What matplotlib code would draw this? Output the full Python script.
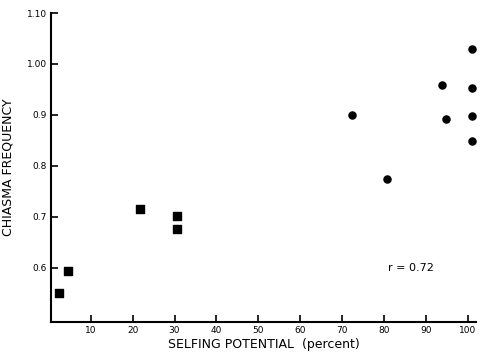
import matplotlib
matplotlib.use("Agg")
import matplotlib.pyplot as plt

plt.rcParams["font.family"] = ["DejaVu Sans"]

# low selfing (squares)
sq_x = [2.4, 4.5, 21.7, 30.7, 30.7]
sq_y = [0.551, 0.594, 0.716, 0.702, 0.676]
# high selfing (circles)
ci_x = [72.4, 80.7, 93.8, 94.8, 101, 101, 101, 101]
ci_y = [0.900, 0.775, 0.959, 0.892, 1.029, 0.953, 0.898, 0.849]

xticks = [10, 20, 30, 40, 50, 60, 70, 80, 90, 100]
yticks = [0.6, 0.7, 0.8, 0.9, 1.0, 1.1]
ytick_labels = ["0.6", "0.7", "0.8", "0.9", "1.00", "1.10"]

fig = plt.figure(figsize=(4.8, 3.6), dpi=100)
ax = fig.add_axes([51 / 480, 38 / 360, 425 / 480, 309 / 360])

ax.scatter(sq_x, sq_y, marker="s", s=28, color="black", clip_on=False)
ax.scatter(ci_x, ci_y, marker="o", s=26, color="black", clip_on=False)

ax.set_xlim(0.5, 102)
ax.set_ylim(0.494, 1.10)
ax.set_xticks(xticks)
ax.set_xticklabels([str(t) for t in xticks])
ax.set_yticks(yticks)
ax.set_yticklabels(ytick_labels)
ax.tick_params(direction="in", length=5, width=1.2, labelsize=6.5, pad=3)

ax.spines["top"].set_visible(False)
ax.spines["right"].set_visible(False)
ax.spines["left"].set_linewidth(1.5)
ax.spines["bottom"].set_linewidth(1.5)

ax.text(81, 0.6, "r = 0.72", fontsize=8, va="center", ha="left")

ax.set_xlabel("SELFING POTENTIAL  (percent)", fontsize=9, labelpad=2)
ax.set_ylabel("CHIASMA FREQUENCY", fontsize=9, labelpad=9)

fig.savefig("out.png", dpi=100)
